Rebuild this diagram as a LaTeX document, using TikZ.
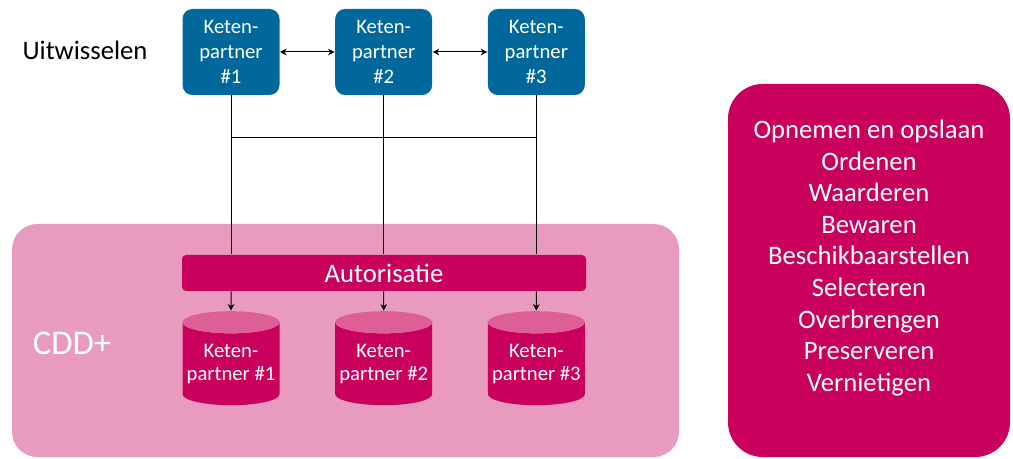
\documentclass[tikz,border=0pt]{standalone}
\usepackage{fontspec}
\setmainfont{Carlito}
\usetikzlibrary{positioning, shapes.geometric, arrows.meta}
\definecolor{rijksblauw}{HTML}{01689B}
\definecolor{robijn}{HTML}{CA005D}
\definecolor{robijnlicht}{HTML}{DE5E98}
\definecolor{roze}{HTML}{E89BBF}

\begin{document}
\begin{tikzpicture}[x=0.75pt, y=-0.75pt, k/.style={fill=rijksblauw, rounded corners=7.5pt, minimum width=72.75pt, minimum height=64.5pt, inner sep=0pt, text=white, align=center, font=\fontsize{15.5}{18.75}\selectfont}, c/.style={cylinder, shape border rotate=90, aspect=0.25, minimum width=72.75pt, minimum height=70.5pt, inner sep=0pt, cylinder uses custom fill, cylinder body fill=robijn, cylinder end fill=robijnlicht, text=white, align=center, font=\fontsize{15.5}{17.25}\selectfont}, bar/.style={fill=robijn, rounded corners=3pt, minimum width=303pt, minimum height=27pt, text=white, font=\fontsize{20}{24}\selectfont}, node distance=41pt, >={Stealth[length=5pt, width=5pt]}, line width=0.75pt]
	\useasboundingbox (0,0) rectangle (1013,459);
	\fill[roze, rounded corners=19pt] (12,224) rectangle (679,457);
	\fill[robijn, rounded corners=26pt] (728,84) rectangle (1010,457);
	\node[font=\fontsize{20}{24}\selectfont] (uit) at (85,50) {Uitwisselen};
	\node[k] (k1) at (231,52) {Keten-\\partner\\\#1};
	\node[k, right=of k1] (k2) {Keten-\\partner\\\#2};
	\node[k, right=of k2] (k3) {Keten-\\partner\\\#3};
	\node[bar] (auth) at (384,273) {Autorisatie};
	\node[c] (c1) at (231,364) {Keten-\\partner \#1};
	\node[c, right=of c1] (c2) {Keten-\\partner \#2};
	\node[c, right=of c2] (c3) {Keten-\\partner \#3};
	\node[text=white, font=\fontsize{26}{30}\selectfont] (cdd) at (72,343) {CDD+};
	\node[text=white, align=center, font=\fontsize{20}{23.7}\selectfont] (taken) at (869,258) {Opnemen en opslaan\\Ordenen\\Waarderen\\Bewaren\\Beschikbaarstellen\\Selecteren\\Overbrengen\\Preserveren\\Vernietigen};
	\draw[<->] (k1) -- (k2);
	\draw[<->] (k2) -- (k3);
	\coordinate[below=31.5pt of k1.south] (h);
	\draw (h) -- (h -| k3);
	\draw (k1) -- (k1 |- auth.north);
	\draw (k2) -- (k2 |- auth.north);
	\draw (k3) -- (k3 |- auth.north);
	\draw[->] (auth.south -| c1) -- (c1.north);
	\draw[->] (auth.south -| c2) -- (c2.north);
	\draw[->] (auth.south -| c3) -- (c3.north);
\end{tikzpicture}
\end{document}
